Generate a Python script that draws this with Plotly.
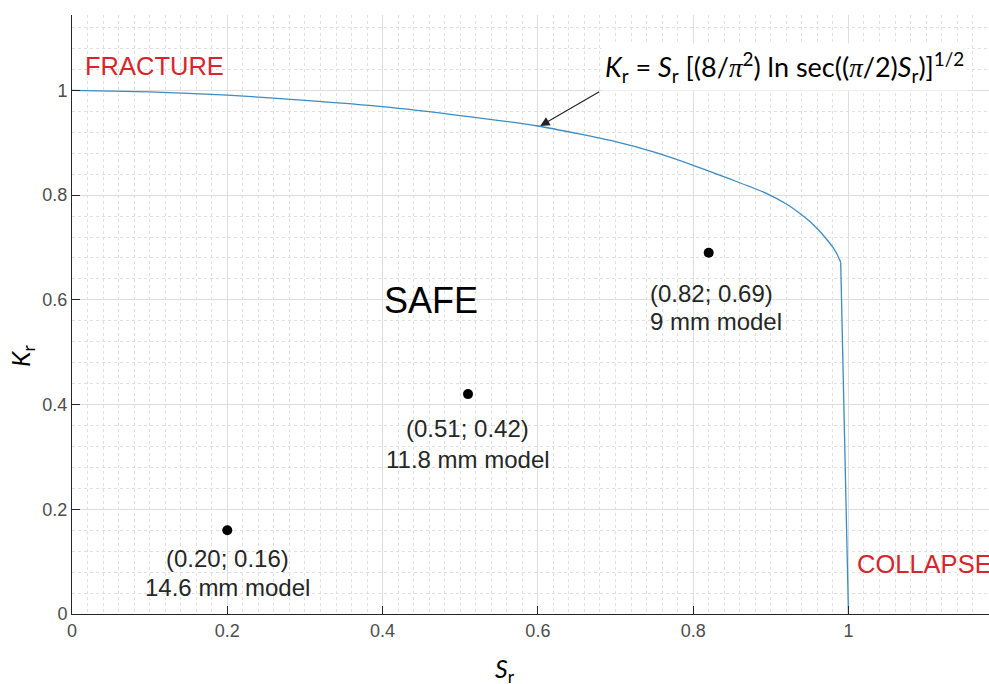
import plotly.graph_objects as go

# Failure assessment curve
curve_sr = [0.0, 0.1, 0.2, 0.3, 0.4, 0.5, 0.6, 0.7, 0.75, 0.8, 0.847, 0.895, 0.92,
            0.9375, 0.95, 0.963, 0.97, 0.98, 0.985, 0.99, 1.0]
curve_kr = [1.0, 0.997, 0.991, 0.981, 0.969, 0.952, 0.932, 0.902, 0.882, 0.857, 0.831,
            0.803, 0.783, 0.765, 0.750, 0.731, 0.719, 0.700, 0.688, 0.672, 0.0]

# Model points
point_sr = [0.20, 0.51, 0.82]
point_kr = [0.16, 0.42, 0.69]
point_coord_labels = ["(0.20; 0.16)", "(0.51; 0.42)", "(0.82; 0.69)"]
point_model_labels = ["14.6 mm model", "11.8 mm model", "9 mm model"]

W, H = 989, 684
L, R, T, B = 72, 0, 15, 70
X_MAX = 1.181
Y_MAX = 1.144

SANS = "Liberation Sans, Arial, sans-serif"
FORM = "Lato, Open Sans, sans-serif"
LINE_COLOR = "#3a8cc2"

fig = go.Figure()
# smooth fracture branch, then the straight collapse branch
fig.add_trace(go.Scatter(x=curve_sr[:-1], y=curve_kr[:-1], mode="lines",
                         line=dict(color=LINE_COLOR, width=1.3, shape="spline", smoothing=0.6),
                         hoverinfo="skip", showlegend=False))
fig.add_trace(go.Scatter(x=curve_sr[-2:], y=curve_kr[-2:], mode="lines",
                         line=dict(color=LINE_COLOR, width=1.3),
                         hoverinfo="skip", showlegend=False))
fig.add_trace(go.Scatter(x=point_sr, y=point_kr, mode="markers",
                         marker=dict(color="black", size=10),
                         showlegend=False))

ann = []
# point labels (offsets in pixels)
offsets = [(0, -28, -57, "center"), (0, -34, -65, "center"), (-61, -41, -69, "left")]
for sx, ky, c, m, (dx, dy1, dy2, al) in zip(point_sr, point_kr, point_coord_labels,
                                              point_model_labels, offsets):
    xa = "left" if al == "left" else "center"
    ann.append(dict(x=sx, y=ky, xref="x", yref="y", text=c, showarrow=False,
                    xshift=dx, yshift=dy1, xanchor=xa, yanchor="middle",
                    font=dict(family=SANS, size=24, color="#262626")))
    ann.append(dict(x=sx, y=ky, xref="x", yref="y", text=m, showarrow=False,
                    xshift=dx, yshift=dy2, xanchor=xa, yanchor="middle",
                    font=dict(family=SANS, size=24, color="#262626")))

ann.append(dict(x=0.462, y=0.599, xref="x", yref="y", text="SAFE", showarrow=False,
                xanchor="center", yanchor="middle",
                font=dict(family=SANS, size=36, color="black")))
ann.append(dict(x=0.014, y=1.0, xref="x", yref="y", text="FRACTURE", showarrow=False,
                xanchor="left", yanchor="middle", yshift=24,
                font=dict(family=SANS, size=25.5, color="#d7262b")))
ann.append(dict(x=1.0, y=0.0, xref="x", yref="y", text="COLLAPSE", showarrow=False,
                xanchor="left", yanchor="middle", xshift=7, yshift=50,
                font=dict(family=SANS, size=25.5, color="#d7262b")))

# arrow
ann.append(dict(x=0.603, y=0.932, xref="x", yref="y", ax=0.681, ay=0.999,
                axref="x", ayref="y", text="", showarrow=True,
                arrowhead=2, arrowsize=1.7, arrowwidth=1.1, arrowcolor="#222"))

formula = ("<i>K</i><sub>r</sub> = <i>S</i><sub>r</sub> [(8/"
           "<span style='font-family:Liberation Serif'><i>π</i></span><sup>2</sup>) ln sec(("
           "<span style='font-family:Liberation Serif'><i>π</i></span>/2)<i>S</i><sub>r</sub>)]"
           "<sup>1/2</sup>")
ann.append(dict(x=0.681, y=0.999, xref="x", yref="y", text=formula, showarrow=False,
                xanchor="left", yanchor="bottom", bgcolor="white", borderpad=3,
                font=dict(family=FORM, size=27, color="black")))

# axis titles
ann.append(dict(x=(505 - L) / (W - L - R), y=(614 - 670) / (H - T - B), xref="paper", yref="paper",
                text="<i>S</i><sub>r</sub>", showarrow=False, xanchor="center", yanchor="middle",
                font=dict(family=FORM, size=25, color="black")))
ann.append(dict(x=(22 - L) / (W - L - R), y=(614 - 356) / (H - T - B), xref="paper", yref="paper",
                text="<i>K</i><sub>r</sub>", showarrow=False, xanchor="center", yanchor="middle",
                textangle=-90, font=dict(family=FORM, size=25, color="black")))

fig.update_layout(
    width=W, height=H,
    margin=dict(l=L, r=R, t=T, b=B),
    paper_bgcolor="white", plot_bgcolor="white",
    annotations=ann,
    showlegend=False,
)
common = dict(showline=True, linecolor="#262626", linewidth=1, ticks="inside", ticklen=8,
              tickcolor="#262626", showgrid=True, gridcolor="#dedede", gridwidth=1,
              zeroline=False, tickfont=dict(family=SANS, size=18, color="#4d4d4d"))
fig.update_xaxes(range=[0, X_MAX], tick0=0, dtick=0.2,
                 minor=dict(tick0=0, dtick=0.02, showgrid=True, gridcolor="#e0e0e0",
                            griddash="dot", gridwidth=1),
                 **common)
fig.update_yaxes(range=[0, Y_MAX], tick0=0, dtick=0.2,
                 minor=dict(tick0=0, dtick=0.04, showgrid=True, gridcolor="#e0e0e0",
                            griddash="dot", gridwidth=1),
                 **common)

fig.write_html("out.html", config={"displayModeBar": False},
               post_script="document.body.style.margin='0';document.body.style.overflow='hidden';")
